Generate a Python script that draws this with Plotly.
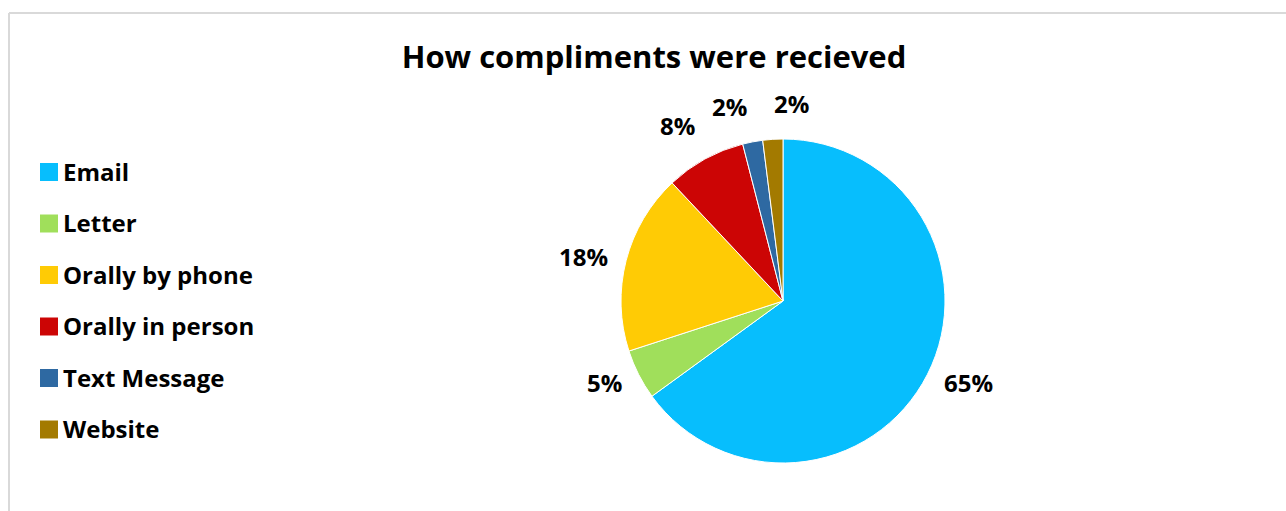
import math
import plotly.graph_objects as go

# Compliment channels and their share of the total (percent)
categories = ["Email", "Letter", "Orally by phone", "Orally in person", "Text Message", "Website"]
shares = [65, 5, 18, 8, 2, 2]
colors = ["#07BEFD", "#A0DF5B", "#FFCB05", "#CC0505", "#2E69A2", "#A37A00"]

W, H = 1286, 511
FONT = "Open Sans"

# Pie geometry in pixels
cx, cy, R = 783, 301, 162

fig = go.Figure()
fig.add_trace(go.Pie(
    labels=categories,
    values=shares,
    marker=dict(colors=colors, line=dict(color="white", width=1)),
    sort=False,
    direction="clockwise",
    rotation=0,
    textinfo="none",
    hoverinfo="label+percent",
    showlegend=False,
    domain=dict(x=[(cx - R) / W, (cx + R) / W],
                y=[(H - cy - R) / H, (H - cy + R) / H]),
))

annotations = []
shapes = []

# Percentage labels outside each slice, placed along the slice's mid angle
total = sum(shares)
cum = 0.0
r_lab = R + 17
for v in shares:
    mid = (cum + v / 2) / total * 2 * math.pi
    cum += v
    s, c = math.sin(mid), math.cos(mid)
    px = cx + r_lab * s
    py = cy - r_lab * c
    xanchor = "right" if s < -0.1 else "left"
    if c > 0.5:
        yanchor = "bottom"
    elif c < -0.5:
        yanchor = "top"
    else:
        yanchor = "middle"
    annotations.append(dict(
        x=px / W, y=1 - py / H, xref="paper", yref="paper",
        text=f"{round(v / total * 100)}%", showarrow=False,
        xanchor=xanchor, yanchor=yanchor,
        font=dict(family=FONT, size=24, color="black", weight="bold"),
    ))

# Legend drawn as swatches with labels
leg_x0, leg_y0, leg_step, sw = 40, 172, 51.5, 18
for i, (name, col) in enumerate(zip(categories, colors)):
    yc = leg_y0 + i * leg_step
    shapes.append(dict(
        type="rect", xref="paper", yref="paper",
        x0=leg_x0 / W, x1=(leg_x0 + sw) / W,
        y0=1 - (yc + sw / 2) / H, y1=1 - (yc - sw / 2) / H,
        fillcolor=col, line=dict(width=0),
    ))
    annotations.append(dict(
        x=(leg_x0 + sw + 3) / W, y=1 - (yc - 1) / H, xref="paper", yref="paper",
        text=name, showarrow=False, xanchor="left", yanchor="middle",
        font=dict(family=FONT, size=24, color="black", weight="bold"),
    ))

# Chart frame (top and left edges)
shapes.append(dict(type="line", xref="paper", yref="paper",
                   x0=9 / W, x1=9 / W, y0=0, y1=1 - 13 / H,
                   line=dict(color="#D9D9D9", width=2)))
shapes.append(dict(type="line", xref="paper", yref="paper",
                   x0=9 / W, x1=1286 / W, y0=1 - 13 / H, y1=1 - 13 / H,
                   line=dict(color="#D9D9D9", width=2)))

fig.update_layout(
    width=W, height=H,
    margin=dict(l=0, r=0, t=0, b=0),
    paper_bgcolor="white",
    plot_bgcolor="white",
    title=dict(text="<b>How compliments were recieved</b>",
               x=654 / W, xanchor="center", y=1 - 57 / H, yanchor="middle",
               font=dict(family=FONT, size=31, color="black")),
    annotations=annotations,
    shapes=shapes,
)

fig.write_html("out.html")
